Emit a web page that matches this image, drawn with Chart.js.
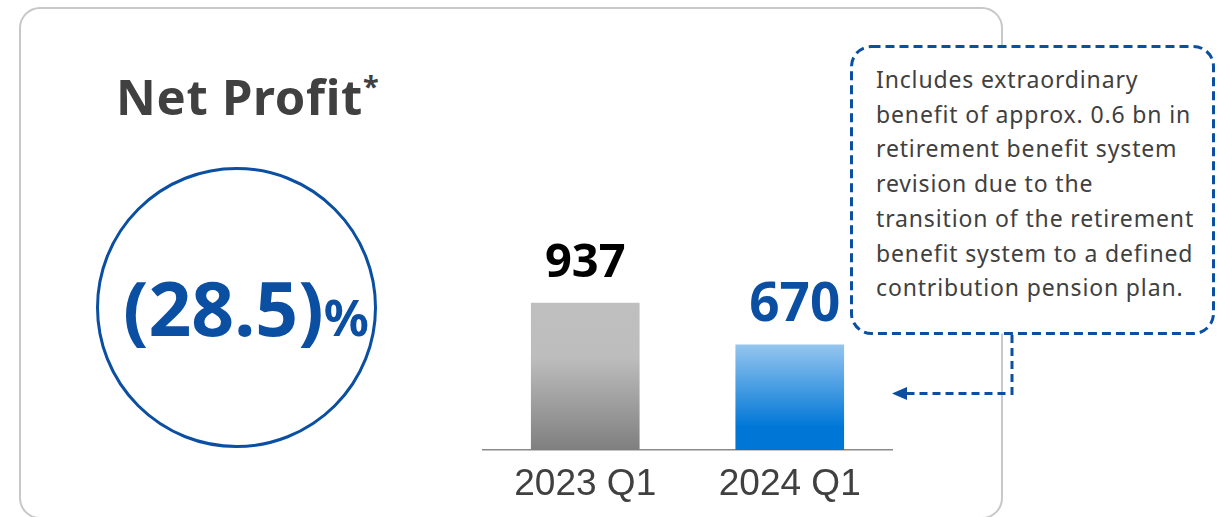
<!DOCTYPE html>
<html>
<head>
<meta charset="utf-8">
<script src="https://cdn.jsdelivr.net/npm/chart.js@4.4.1/dist/chart.umd.min.js"></script>
<style>
  html, body { margin: 0; padding: 0; background: #ffffff; }
  #wrap { position: relative; width: 1217px; height: 517px; overflow: hidden; }
  #deco, #chart { position: absolute; left: 0; top: 0; }
</style>
</head>
<body>
<div id="wrap">
  <svg id="deco" width="1217" height="517" xmlns="http://www.w3.org/2000/svg">
    <!-- card -->
    <rect x="20" y="8" width="982" height="510" rx="20" ry="20" fill="#ffffff" stroke="#c8c8c8" stroke-width="2"/>
    <!-- title -->
    <text x="116" y="115" font-family="'Noto Sans', sans-serif" font-weight="700" font-size="49" letter-spacing="0.7" fill="#404040">Net Profit<tspan font-size="29" dy="-18" letter-spacing="0">*</tspan></text>
    <!-- circle -->
    <circle cx="236.5" cy="307.5" r="139" fill="none" stroke="#0b4fa2" stroke-width="3"/>
    <text x="123" y="336" font-family="'Noto Sans', sans-serif" font-weight="700" font-size="75" fill="#0b4fa2">(28.5)<tspan font-size="50">%</tspan></text>
    <!-- callout -->
    <rect x="851.5" y="46.5" width="362" height="287" rx="20" ry="20" fill="#ffffff" stroke="#0b4fa2" stroke-width="3" stroke-dasharray="9 5"/>
    <g font-family="'Noto Sans', sans-serif" font-size="23" letter-spacing="0.85" fill="#404040">
      <text x="876" y="88">Includes extraordinary</text>
      <text x="876" y="122.7">benefit of approx. 0.6 bn in</text>
      <text x="876" y="157.4">retirement benefit system</text>
      <text x="876" y="192.1">revision due to the</text>
      <text x="876" y="226.8">transition of the retirement</text>
      <text x="876" y="261.5">benefit system to a defined</text>
      <text x="876" y="296.2">contribution pension plan.</text>
    </g>
    <!-- connector -->
    <path d="M1012 335 V393.5 H906" fill="none" stroke="#0b4fa2" stroke-width="3" stroke-dasharray="8 5"/>
    <polygon points="892,393.5 907,387 907,400" fill="#0b4fa2"/>
  </svg>
  <canvas id="chart" width="1217" height="517"></canvas>
</div>
<script>
const categories = ['2023 Q1', '2024 Q1'];
const netProfit = [937, 670];
const valueLabels = ['937', '670'];
const yRange = [0, 2500];

const labelColors = ['#000000', '#0b4fa2'];
const labelSizes = [47, 53];
const labelOffsets = [[0, -26], [5, -24]];

function barFill(ctx) {
  const chart = ctx.chart;
  if (!chart.chartArea) return '#bfbfbf';
  const i = ctx.dataIndex;
  const ys = chart.scales.y;
  const top = ys.getPixelForValue(netProfit[i]);
  const bottom = ys.getPixelForValue(0);
  const g = chart.ctx.createLinearGradient(0, top, 0, bottom);
  if (i === 0) {
    g.addColorStop(0, '#bfbfbf');
    g.addColorStop(0.37, '#bdbdbd');
    g.addColorStop(1, '#7f7f7f');
  } else {
    g.addColorStop(0, '#94c5ef');
    g.addColorStop(0.78, '#0077d7');
    g.addColorStop(1, '#0077d7');
  }
  return g;
}

const valueLabelPlugin = {
  id: 'valueLabels',
  afterDatasetsDraw(chart) {
    const meta = chart.getDatasetMeta(0);
    const c = chart.ctx;
    meta.data.forEach((bar, i) => {
      c.save();
      c.font = '700 ' + labelSizes[i] + 'px "Noto Sans", sans-serif';
      c.fillStyle = labelColors[i];
      c.textAlign = 'center';
      c.textBaseline = 'alphabetic';
      c.fillText(valueLabels[i], bar.x + labelOffsets[i][0], bar.y + labelOffsets[i][1]);
      c.restore();
    });
  }
};

new Chart(document.getElementById('chart'), {
  type: 'bar',
  data: {
    labels: categories,
    datasets: [{
      data: netProfit,
      backgroundColor: barFill,
      borderWidth: 0,
      barThickness: 108
    }]
  },
  options: {
    responsive: false,
    animation: false,
    layout: { padding: { left: 483, right: 325, top: 57.8, bottom: 0 } },
    plugins: { legend: { display: false }, tooltip: { enabled: false } },
    scales: {
      x: {
        grid: { display: false, drawTicks: false },
        border: { display: true, color: '#8a8a8a', width: 1.5 },
        ticks: { color: '#404040', font: { family: '"Liberation Sans", Arial, sans-serif', size: 37 }, padding: 13 },
        afterFit(s) { s.height = 67; }
      },
      y: {
        display: false,
        min: yRange[0],
        max: yRange[1]
      }
    }
  },
  plugins: [valueLabelPlugin]
});
</script>
</body>
</html>
